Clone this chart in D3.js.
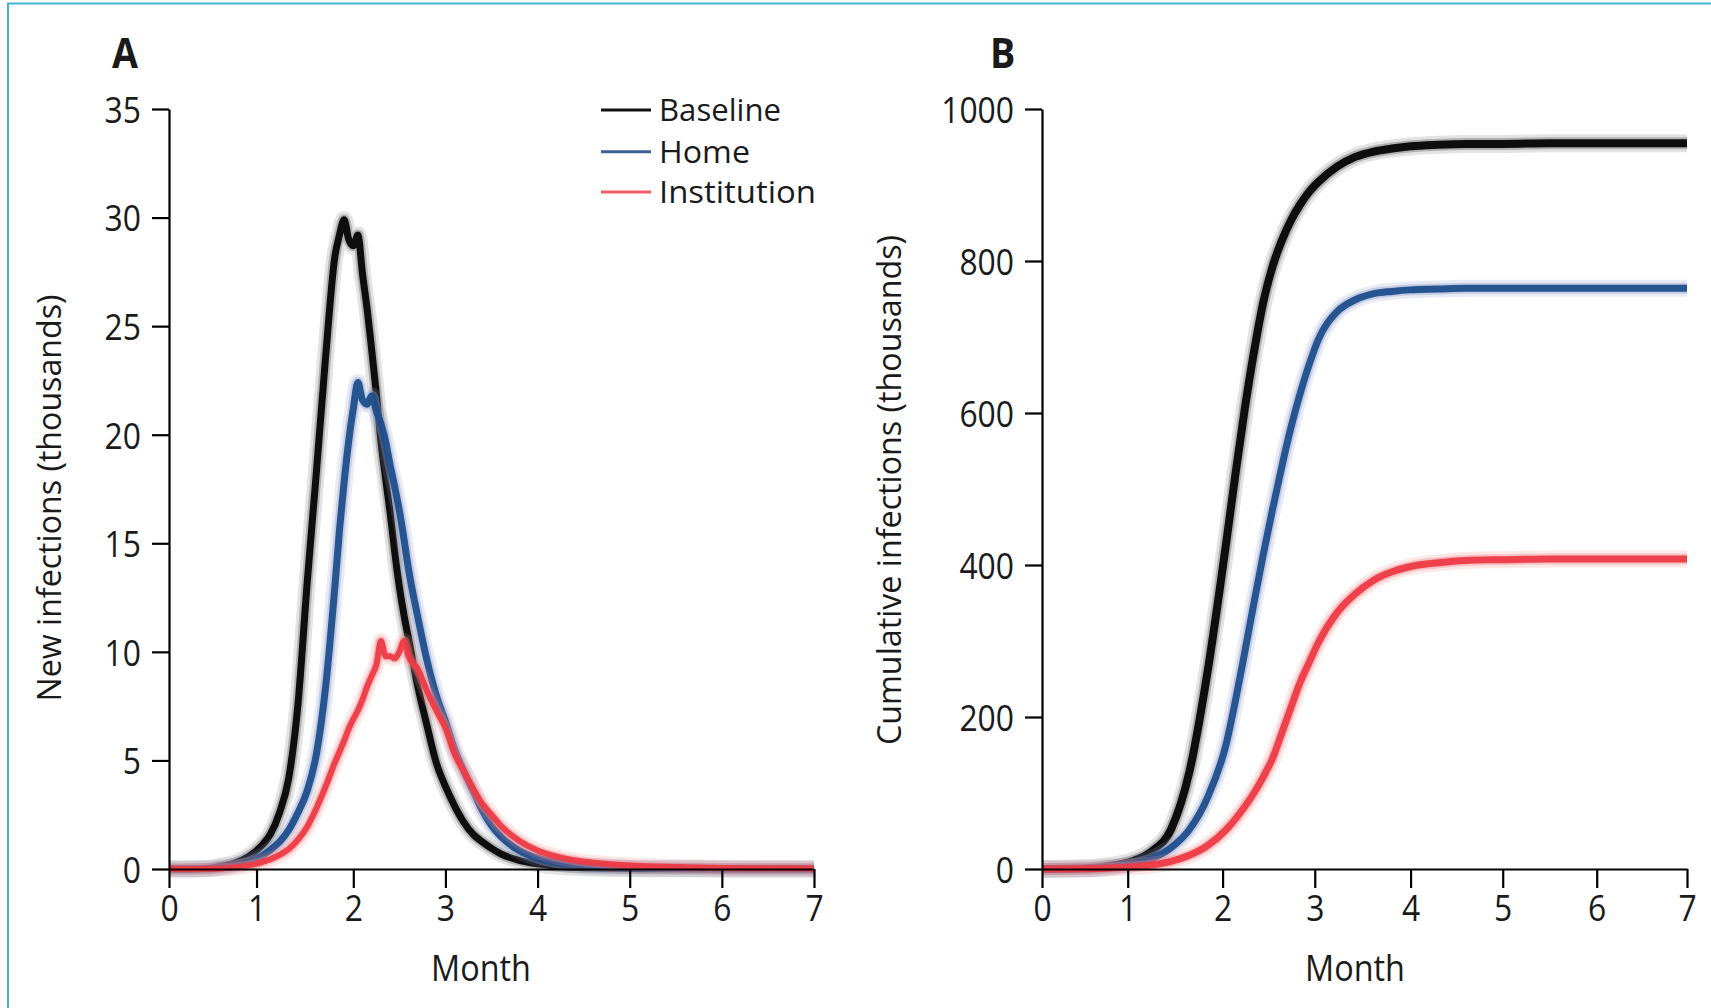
<!DOCTYPE html>
<html><head><meta charset="utf-8">
<script src="https://cdn.jsdelivr.net/npm/d3@7"></script>
<style>
html,body{margin:0;padding:0;background:#fff;}
svg{display:block;}
text{font-family:"Open Sans","Noto Sans",sans-serif;fill:#1a1a1a;}
</style></head><body>
<svg id="chart" width="1711" height="1008"></svg>
<script>
// ---------- data ----------
const seriesNames = ["Baseline", "Home", "Institution"];

const monthsA = [0, 0.2, 0.4, 0.6, 0.7, 0.8, 0.9, 1.0, 1.1, 1.2, 1.3, 1.4, 1.5, 1.6, 1.7, 1.8,
  1.85, 1.9, 1.95, 2.0, 2.05, 2.1, 2.15, 2.2, 2.25, 2.3, 2.35, 2.4, 2.45, 2.5, 2.55, 2.6,
  2.7, 2.8, 2.9, 3.0, 3.1, 3.2, 3.3, 3.4, 3.5, 3.6, 3.8, 4.0, 4.2, 4.4, 4.7, 5.0, 5.5, 6.0, 6.5, 7.0];
const baselineNew = [0, 0, 0.02, 0.15, 0.25, 0.42, 0.68, 1.05, 1.6, 2.6, 4.2, 7.6, 13.2, 18.3, 23.6, 28.2,
  29.2, 29.9, 29.0, 28.7, 29.2, 27.4, 25.8, 23.9, 21.9, 19.7, 18.0, 16.4, 14.6, 13.0, 11.7, 10.6,
  8.4, 6.6, 4.9, 3.8, 2.9, 2.15, 1.6, 1.25, 0.95, 0.7, 0.4, 0.24, 0.14, 0.08, 0.04, 0.02, 0.01, 0, 0, 0];
const homeNew = [0, 0, 0.01, 0.08, 0.14, 0.24, 0.38, 0.58, 0.88, 1.25, 1.8, 2.6, 3.6, 5.3, 8.4, 13.0,
  15.6, 17.8, 19.7, 21.2, 22.4, 21.6, 21.4, 21.8, 21.1, 20.5, 19.7, 18.6, 17.6, 16.5, 15.2, 13.8,
  11.6, 9.6, 8.0, 6.8, 5.5, 4.5, 3.6, 2.7, 2.0, 1.5, 0.85, 0.5, 0.3, 0.18, 0.09, 0.05, 0.02, 0.01, 0, 0];
const institutionNew = [0, 0, 0.01, 0.04, 0.07, 0.12, 0.2, 0.3, 0.45, 0.65, 0.92, 1.35, 1.95, 2.8, 3.8, 4.9,
  5.4, 5.9, 6.45, 6.9, 7.3, 7.8, 8.4, 8.9, 9.4, 10.5, 9.8, 9.8, 9.7, 10.0, 10.5, 9.8,
  9.2, 8.2, 7.3, 6.5, 5.3, 4.5, 3.7, 3.0, 2.5, 2.0, 1.3, 0.85, 0.58, 0.4, 0.25, 0.16, 0.09, 0.05, 0.03, 0.02];

const monthsB = [0, 0.4, 0.6, 0.8, 1.0, 1.2, 1.4, 1.6, 1.8, 2.0, 2.1, 2.2, 2.3, 2.4, 2.5, 2.6, 2.7, 2.8,
  2.9, 3.0, 3.2, 3.4, 3.6, 3.8, 4.0, 4.3, 4.6, 5.0, 5.5, 6.0, 6.5, 7.0];
const baselineCum = [0, 0.5, 2, 5, 11, 24, 52, 128, 262, 430, 520, 605, 680, 745, 792, 826, 853, 874,
  891, 904, 924, 937, 944, 948, 951, 953, 954, 954, 955, 955, 955, 955];
const homeCum = [0, 0.3, 1, 3, 7, 14, 28, 52, 95, 165, 222, 285, 350, 413, 472, 528, 580, 625,
  664, 697, 733, 749, 757, 760, 762, 763, 764, 764, 764, 764, 764, 764];
const institutionCum = [0, 0.2, 0.6, 1.5, 3, 5.5, 10, 18, 31, 52, 66, 82, 100, 121, 145, 178, 212, 245,
  272, 298, 337, 362, 380, 391, 398, 403, 406, 407, 408, 408, 408, 408];

const yTicksA = [0, 5, 10, 15, 20, 25, 30, 35];
const yTicksB = [0, 200, 400, 600, 800, 1000];
const xTickValuesA = [0, 0.95, 2, 3, 4, 5, 6, 7];
const xTickValuesB = [0, 0.93, 1.96, 2.96, 4, 5, 6.02, 7];
const xTickLabels = ["0", "1", "2", "3", "4", "5", "6", "7"];

// ---------- styling ----------
const core = ["#050505", "#1f4e8c", "#ee3a44"];
const halo = ["#000000", "#8d9bc9", "#f38a8e"];
const haloOp = [0.22, 0.4, 0.4];
const legendCol = ["#111111", "#3c5f97", "#ef5c67"];

const svg = d3.select("#chart");

// frame
svg.append("rect").attr("x", 8).attr("y", 3.5).attr("width", 1740).attr("height", 1040)
  .attr("fill", "none").attr("stroke", "#43b3cf").attr("stroke-width", 2);

function condense(sel, f) {
  sel.each(function () {
    const w = this.getComputedTextLength();
    this.setAttribute("textLength", (w * f).toFixed(1));
    this.setAttribute("lengthAdjust", "spacingAndGlyphs");
  });
}
function fitWidth(sel, w) {
  sel.attr("textLength", w).attr("lengthAdjust", "spacingAndGlyphs");
}

function panel(opts) {
  const x = d3.scaleLinear().domain([0, 7]).range(opts.xr);
  const y = d3.scaleLinear().domain(opts.ydom).range([869, 109]);
  const g = svg.append("g");

  // lines
  const line = d3.line().x(d => x(d[0])).y(d => y(d[1])).curve(d3.curveMonotoneX);
  opts.series.forEach((vals, i) => {
    const pts = opts.months.map((m, k) => [m, vals[k]]);
    const w = opts.w[i];
    g.append("path").attr("d", line(pts)).attr("fill", "none")
      .attr("stroke", halo[i]).attr("stroke-opacity", haloOp[i] * 0.5)
      .attr("stroke-width", w + 10).attr("stroke-linejoin", "round");
    g.append("path").attr("d", line(pts)).attr("fill", "none")
      .attr("stroke", halo[i]).attr("stroke-opacity", haloOp[i])
      .attr("stroke-width", w + 4).attr("stroke-linejoin", "round");
    g.append("path").attr("d", line(pts)).attr("fill", "none")
      .attr("stroke", core[i]).attr("stroke-opacity", 0.95)
      .attr("stroke-width", w).attr("stroke-linejoin", "round");
  });

  // axes
  const ya = g.append("g").attr("transform", `translate(${opts.xr[0]},0)`)
    .call(d3.axisLeft(y).tickValues(opts.yTicks).tickSize(17).tickSizeOuter(0).tickPadding(11)
      .tickFormat(d3.format("d")));
  const xa = g.append("g").attr("transform", `translate(0,869)`)
    .call(d3.axisBottom(x).tickValues(opts.xTicks).tickSize(19).tickSizeOuter(0).tickPadding(7)
      .tickFormat((d, i) => xTickLabels[i]));
  [ya, xa].forEach(a => {
    a.attr("font-family", null).attr("font-size", 37);
    a.selectAll("path.domain").attr("stroke", "#000").attr("stroke-width", 2.2);
    a.selectAll(".tick line").attr("stroke", "#000").attr("stroke-width", 2.2);
    a.selectAll(".tick text").attr("fill", "#1a1a1a");
  });
  ya.selectAll(".tick text").attr("dy", "0.36em");
  condense(ya.selectAll(".tick text"), 0.86);
  condense(xa.selectAll(".tick text"), 0.86);

  // axis titles
  g.append("text").attr("x", opts.monthX).attr("y", 981).attr("text-anchor", "middle")
    .attr("font-size", 36).text("Month").call(fitWidth, 100);
  g.append("text").attr("transform", `translate(${opts.ytX},${opts.ytY}) rotate(-90)`)
    .attr("text-anchor", "middle").attr("font-size", 33).text(opts.yTitle).call(fitWidth, opts.ytW);
  // panel letter
  g.append("text").attr("x", opts.letterX).attr("y", 67.7).attr("font-size", 41)
    .attr("font-weight", 700).attr("fill", "#111").text(opts.letter).call(condense, 0.92);
  return { x, y, g };
}

panel({
  xr: [169, 814], ydom: [0, 35], months: monthsA,
  series: [baselineNew, homeNew, institutionNew], w: [7, 7, 6],
  yTicks: yTicksA, xTicks: xTickValuesA, monthX: 481,
  yTitle: "New infections (thousands)", ytX: 61, ytY: 498, ytW: 407,
  letter: "A", letterX: 112
});
panel({
  xr: [1042, 1687], ydom: [0, 1000], months: monthsB,
  series: [baselineCum, homeCum, institutionCum], w: [8, 7, 7],
  yTicks: yTicksB, xTicks: xTickValuesB, monthX: 1355,
  yTitle: "Cumulative infections (thousands)", ytX: 901, ytY: 490, ytW: 510,
  letter: "B", letterX: 990
});

// legend
const legendY = [110, 151.7, 192];
const legendW = [122, 91, 157];
const lg = svg.append("g");
seriesNames.forEach((name, i) => {
  lg.append("line").attr("x1", 601).attr("x2", 651).attr("y1", legendY[i]).attr("y2", legendY[i])
    .attr("stroke", legendCol[i]).attr("stroke-width", 3);
  lg.append("text").attr("x", 659).attr("y", legendY[i] + 11).attr("font-size", 31)
    .text(name).call(fitWidth, legendW[i]);
});
</script>
</body></html>
